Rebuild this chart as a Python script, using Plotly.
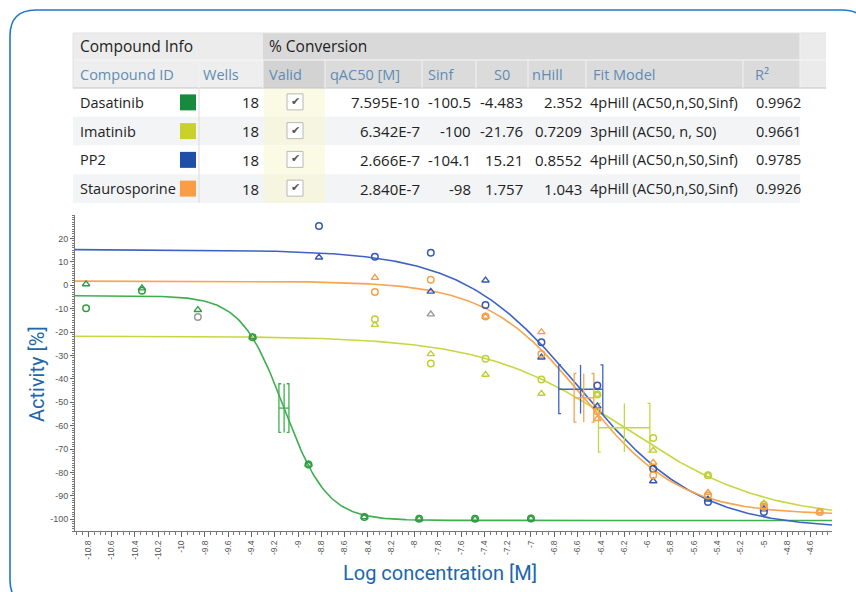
import plotly.graph_objects as go
import numpy as np

W, H = 856, 592

# ---------------- table data ----------------
compounds = ["Dasatinib", "Imatinib", "PP2", "Staurosporine"]
compound_colors = ["#178a3e", "#c9d22c", "#1f4fa8", "#f99d47"]
curve_colors = ["#3fae4f", "#c6d743", "#3d63c2", "#f8a550"]
wells = [18, 18, 18, 18]
qac50_text = ["7.595E-10", "6.342E-7", "2.666E-7", "2.840E-7"]
sinf = [-100.5, -100, -104.1, -98]
s0 = [-4.483, -21.76, 15.21, 1.757]
nhill = [2.352, 0.7209, 0.8552, 1.043]
fit_model = ["4pHill (AC50,n,S0,Sinf)", "3pHill (AC50, n, S0)",
             "4pHill (AC50,n,S0,Sinf)", "4pHill (AC50,n,S0,Sinf)"]
r2 = [0.9962, 0.9661, 0.9785, 0.9926]

header_groups = ["Compound Info", "% Conversion"]
col_names = ["Compound ID", "Wells", "Valid", "qAC50 [M]", "Sinf", "S0", "nHill", "Fit Model", "R²"]

# AC50 confidence interval (log M)
ci_lo = [-9.164, -6.420, -6.761, -6.629]
ci_hi = [-9.078, -5.979, -6.383, -6.460]

# ---------------- plot data ----------------
logc_das = [-10.82, -10.34, -9.86, -9.39, -8.91, -8.43, -7.96, -7.48, -7.00]
logc_std = [-8.82, -8.34, -7.86, -7.39, -6.91, -6.43, -5.95, -5.48, -5.00, -4.52]

das_rep1 = [-9.8, -2.4, None, -22.2, -76.6, -99.0, -99.8, -99.8, -99.7]
das_rep2 = [0.5, -1.3, -10.5, -22.2, -76.6, -99.0, -99.8, -99.8, -99.7]
ima_rep1 = [None, -14.5, -33.4, -31.4, -40.3, -46.7, -65.3, -81.2, -93.8, None]
ima_rep2 = [None, -16.9, -29.4, -38.2, -46.3, -46.7, -70.6, -81.2, -93.2, None]
pp2_rep1 = [25.3, 12.2, 13.9, -8.4, -24.4, -42.8, -78.4, -92.6, -96.9, None]
pp2_rep2 = [11.9, None, -2.7, 2.1, -30.8, -51.7, -83.7, -91.5, -95.7, None]
sta_rep1 = [None, -2.9, 2.3, -13.4, -29.4, -53.8, -81.2, -89.8, -94.6, -96.9]
sta_rep2 = [None, 3.2, None, -13.4, -20.0, -57.1, -75.8, -88.6, -94.6, -96.9]

masked_circle_x = [-9.86]
masked_circle_y = [-13.6]
masked_tri_x = [-7.86]
masked_tri_y = [-12.4]

y_tick_vals = [20, 10, 0, -10, -20, -30, -40, -50, -60, -70, -80, -90, -100]
x_tick_labels = ["-10.8", "-10.6", "-10.4", "-10.2", "-10", "-9.8", "-9.6", "-9.4", "-9.2",
                 "-9", "-8.8", "-8.6", "-8.4", "-8.2", "-8", "-7.8", "-7.6", "-7.4", "-7.2",
                 "-7", "-6.8", "-6.6", "-6.4", "-6.2", "-6", "-5.8", "-5.6", "-5.4", "-5.2",
                 "-5", "-4.8", "-4.6"]

X_RANGE = [-10.915, -4.415]
Y_RANGE = [-105, 30]


def X(px):
    return px / W


def Y(py):
    return 1 - py / H


fig = go.Figure()

# ---------------- fitted curves ----------------
xs = np.linspace(X_RANGE[0], X_RANGE[1], 400)
for i in range(4):
    lac = np.log10(float(qac50_text[i]))
    ys = s0[i] + (sinf[i] - s0[i]) / (1 + 10 ** (nhill[i] * (lac - xs)))
    fig.add_trace(go.Scatter(x=xs, y=ys, mode="lines",
                             line=dict(color=curve_colors[i], width=1.6),
                             showlegend=False, hoverinfo="skip"))

# ---------------- AC50 glyphs ----------------
HALF = 10.4
SER = 0.02
for i in range(4):
    lac = np.log10(float(qac50_text[i]))
    mid = (s0[i] + sinf[i]) / 2
    lo, hi = ci_lo[i], ci_hi[i]
    gx = [lo, hi, None,
          lo + SER, lo, lo, lo + SER, None,
          hi - SER, hi, hi, hi - SER, None,
          lac, lac]
    gy = [mid, mid, None,
          mid + HALF, mid + HALF, mid - HALF, mid - HALF, None,
          mid + HALF, mid + HALF, mid - HALF, mid - HALF, None,
          mid + HALF, mid - HALF]
    fig.add_trace(go.Scatter(x=gx, y=gy, mode="lines",
                             line=dict(color=curve_colors[i], width=1.3),
                             showlegend=False, hoverinfo="skip"))

# ---------------- data points ----------------
series = [
    (logc_das, das_rep1, das_rep2, "#2f9e42"),
    (logc_std, ima_rep1, ima_rep2, "#bfcf35"),
    (logc_std, pp2_rep1, pp2_rep2, "#3358b8"),
    (logc_std, sta_rep1, sta_rep2, "#f7a048"),
]
for lc, r1, r2_, col in series:
    fig.add_trace(go.Scatter(x=lc, y=r1, mode="markers",
                             marker=dict(symbol="circle-open", size=6.5, color=col,
                                         line=dict(width=1.5, color=col)),
                             showlegend=False, hoverinfo="skip"))
    fig.add_trace(go.Scatter(x=lc, y=r2_, mode="markers",
                             marker=dict(symbol="triangle-up-open", size=6.5, color=col,
                                         line=dict(width=1.4, color=col)),
                             showlegend=False, hoverinfo="skip"))
fig.add_trace(go.Scatter(x=masked_circle_x, y=masked_circle_y, mode="markers",
                         marker=dict(symbol="circle-open", size=6.5, color="#9a9a9a",
                                     line=dict(width=1.5, color="#9a9a9a")),
                         showlegend=False, hoverinfo="skip"))
fig.add_trace(go.Scatter(x=masked_tri_x, y=masked_tri_y, mode="markers",
                         marker=dict(symbol="triangle-up-open", size=6.5, color="#9a9a9a",
                                     line=dict(width=1.4, color="#9a9a9a")),
                         showlegend=False, hoverinfo="skip"))

# ---------------- table drawing ----------------
shapes = []
ann = []


def rect(x0, y0, x1, y1, fill, line=None, lw=0):
    d = dict(type="rect", xref="paper", yref="paper",
             x0=X(x0), x1=X(x1), y0=Y(y1), y1=Y(y0),
             fillcolor=fill, layer="below")
    d["line"] = dict(width=lw, color=line or fill)
    shapes.append(d)


def hline(x0, x1, y, color, w=1):
    shapes.append(dict(type="line", xref="paper", yref="paper",
                       x0=X(x0), x1=X(x1), y0=Y(y), y1=Y(y),
                       line=dict(color=color, width=w), layer="above"))


def vline(x, y0, y1, color, w=1):
    shapes.append(dict(type="line", xref="paper", yref="paper",
                       x0=X(x), x1=X(x), y0=Y(y0), y1=Y(y1),
                       line=dict(color=color, width=w), layer="above"))


def text(x, y, s, anchor="left", size=14, color="#222", family="Open Sans"):
    ann.append(dict(x=X(x), y=Y(y), xref="paper", yref="paper", text=s,
                    showarrow=False, xanchor=anchor, yanchor="middle",
                    font=dict(size=size, color=color, family=family)))


T_L, T_R, T_EXT = 73, 800, 826
ROW1 = (33, 60)
ROW2 = (60, 88)
ROW_H = 28.75
col_edges = [73, 199, 263, 325, 422, 476, 528, 586, 743, 800]

# header row 1
rect(T_L, ROW1[0], 263, ROW1[1], "#ececec")
rect(263, ROW1[0], T_R, ROW1[1], "#d9d9d9")
rect(T_R, ROW1[0], T_EXT, ROW2[1], "#ebebeb")
# header row 2
rect(T_L, ROW2[0], 263, ROW2[1], "#eeeeee")
rect(263, ROW2[0], 325, ROW2[1], "#d3d3d3")
rect(325, ROW2[0], T_R, ROW2[1], "#dbdbdb")

# data rows
for r in range(4):
    y0 = ROW2[1] + r * ROW_H
    y1 = y0 + ROW_H
    bg = "#ffffff" if r % 2 == 0 else "#f3f4f6"
    rect(T_L, y0, T_R, y1, bg)
    rect(264, y0, 325, y1, "#fbfbe5" if r % 2 == 0 else "#f6f6e0")

# lines
hline(T_L, T_EXT, ROW1[0], "#e2e2e2")
hline(T_L, T_EXT, ROW2[0], "#f7f7f7")
hline(T_L, T_EXT, ROW2[1], "#c4c4c4")
vline(T_L, ROW1[0], ROW2[1], "#e2e2e2")
for e in col_edges[1:-1]:
    vline(e, ROW2[0], ROW2[1], "#f2f2f2")
vline(T_R, ROW1[0], ROW2[1], "#f2f2f2")
vline(199, ROW2[1], ROW2[1] + 4 * ROW_H, "#dcdcdc")

# header texts
text(78, 46.5, header_groups[0], size=15.5, color="#222")
text(267, 46.5, header_groups[1], size=15.5, color="#222")
header_x = [78, 201, 267, 328, 426, 492, 530, 591, 753]
for name, hx in zip(col_names, header_x):
    text(hx, 74, name, size=14.5, color="#5f8cb6")

# data texts
for r in range(4):
    yc = ROW2[1] + r * ROW_H + ROW_H / 2
    text(78, yc, compounds[r], size=14.5)
    rect(180, yc - 8, 196, yc + 8, compound_colors[r])
    text(261, yc, str(wells[r]), anchor="right", size=15)
    # checkbox
    shapes.append(dict(type="rect", xref="paper", yref="paper",
                       x0=X(287), x1=X(303), y0=Y(yc + 7.5), y1=Y(yc - 8.5),
                       fillcolor="#ffffff", line=dict(color="#b8b8b8", width=1),
                       layer="above"))
    text(295, yc - 1, "✔", anchor="center", size=11, color="#555", family="DejaVu Sans")
    text(422, yc, qac50_text[r], anchor="right", size=15)
    text(473, yc, f"{sinf[r]:g}", anchor="right", size=15)
    text(525, yc, f"{s0[r]:g}", anchor="right", size=15)
    text(584, yc, f"{nhill[r]:g}", anchor="right", size=15)
    text(588, yc, fit_model[r], size=14.5)
    text(754, yc, f"{r2[r]:g}", size=14.5)

# axis titles
ann.append(dict(x=X(37), y=Y(374), xref="paper", yref="paper", text="Activity [%]",
                showarrow=False, textangle=-90, xanchor="center", yanchor="middle",
                font=dict(size=20, color="#2066aa", family="Roboto")))
ann.append(dict(x=X(440), y=Y(573), xref="paper", yref="paper",
                text="Log concentration [M]",
                showarrow=False, xanchor="center", yanchor="middle",
                font=dict(size=20, color="#2066aa", family="Roboto")))

# rounded outer frame
bx0, by0, bx1, by1, rr = 10, 10, 868, 606, 26
path = (f"M {X(bx0 + rr)} {Y(by0)} L {X(bx1 - rr)} {Y(by0)} "
        f"Q {X(bx1)} {Y(by0)} {X(bx1)} {Y(by0 + rr)} "
        f"L {X(bx1)} {Y(by1 - rr)} Q {X(bx1)} {Y(by1)} {X(bx1 - rr)} {Y(by1)} "
        f"L {X(bx0 + rr)} {Y(by1)} Q {X(bx0)} {Y(by1)} {X(bx0)} {Y(by1 - rr)} "
        f"L {X(bx0)} {Y(by0 + rr)} Q {X(bx0)} {Y(by0)} {X(bx0 + rr)} {Y(by0)} Z")
shapes.append(dict(type="path", xref="paper", yref="paper", path=path,
                   line=dict(color="#1f78c8", width=1.6), fillcolor="rgba(0,0,0,0)",
                   layer="above"))

tick_font = dict(size=9, color="#555", family="Liberation Sans")

fig.update_layout(
    width=W, height=H,
    margin=dict(l=0, r=0, t=0, b=0),
    paper_bgcolor="white", plot_bgcolor="white",
    shapes=shapes, annotations=ann,
    xaxis=dict(domain=[X(75), X(832)], range=X_RANGE,
               tickmode="array", tickvals=[float(t) for t in x_tick_labels],
               ticktext=x_tick_labels, tickangle=-90, tickfont=dict(size=8.5, color="#555",
                                                                    family="Liberation Sans"),
               ticks="outside", ticklen=5, tickcolor="#666", tickwidth=1,
               minor=dict(dtick=0.05, ticks="outside", ticklen=3, tickcolor="#777"),
               showline=True, linecolor="#777", linewidth=1,
               showgrid=False, zeroline=False),
    yaxis=dict(domain=[Y(531), Y(215)], range=Y_RANGE,
               tickmode="array", tickvals=y_tick_vals,
               ticktext=[str(v) for v in y_tick_vals], tickfont=tick_font,
               ticks="outside", ticklen=4, tickcolor="#666", tickwidth=1,
               minor=dict(dtick=1, ticks="outside", ticklen=2, tickcolor="#777"),
               showline=True, linecolor="#777", linewidth=1,
               showgrid=False, zeroline=False),
)

fig.write_html("out.html", config={"displayModeBar": False},
               post_script="document.body.style.margin='0';document.body.style.padding='0';"
                           "document.body.style.overflow='hidden';")
